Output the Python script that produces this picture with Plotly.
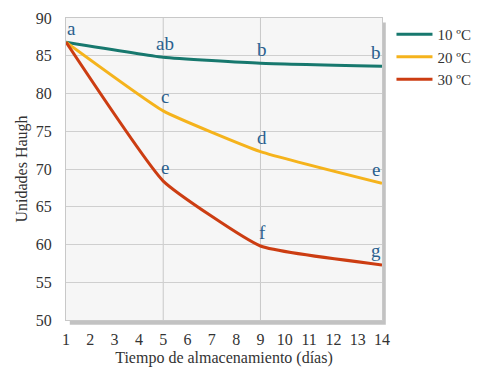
import plotly.graph_objects as go

days = [1, 5, 9, 14]
s10 = [86.8, 84.8, 84.0, 83.6]
s20 = [86.8, 77.7, 72.3, 68.1]
s30 = [86.8, 68.4, 59.8, 57.3]
names = ["10 ºC", "20 ºC", "30 ºC"]
colors = ["#17786e", "#f5b31c", "#cc3d12"]
lab10 = ["a", "ab", "b", "b"]
lab20 = ["", "c", "d", "e"]
lab30 = ["", "e", "f", "g"]
xticks = list(range(1, 15))
yticks = list(range(50, 91, 5))

serif = "Liberation Serif, Times New Roman, serif"
fig = go.Figure()
for name, vals, col in zip(names, [s10, s20, s30], colors):
    fig.add_trace(go.Scatter(x=days, y=vals, mode="lines", name=name,
                             line=dict(color=col, width=3, shape="spline", smoothing=0.4)))

for vals, labs in zip([s10, s20, s30], [lab10, lab20, lab30]):
    for xv, yv, t in zip(days, vals, labs):
        if not t:
            continue
        xs = 5 if xv == 1 else (-6 if xv == 14 else 2)
        fig.add_annotation(x=xv, y=yv, text=t, showarrow=False, xref="x", yref="y",
                           yshift=14, xshift=xs,
                           font=dict(family=serif, size=19, color="#2a5f8e"))

# drop shadow of plot area
fig.add_shape(type="rect", xref="paper", yref="paper", x0=0.012, y0=-0.016, x1=1.012, y1=0.985,
              fillcolor="#9a9a9a", line=dict(width=0), layer="below", opacity=0.6)
fig.add_shape(type="rect", xref="paper", yref="paper", x0=0, y0=0, x1=1, y1=1,
              fillcolor="#f6f6f6", line=dict(width=0), layer="below")

fig.update_layout(
    width=472, height=370,
    margin=dict(l=58, r=98, t=10, b=58, autoexpand=False),
    paper_bgcolor="white", plot_bgcolor="rgba(0,0,0,0)",
    font=dict(family=serif, size=14, color="#333333"),
    legend=dict(x=1.03, y=1.0, xanchor="left", yanchor="top",
                font=dict(family=serif, size=15, color="#333333"),
                itemwidth=36, tracegroupgap=0, bgcolor="rgba(0,0,0,0)"),
    showlegend=True,
)
fig.update_xaxes(range=[1, 14], tickvals=xticks, ticktext=[str(v) for v in xticks],
                 showgrid=False, zeroline=False, showline=True, mirror=True,
                 linecolor="#c8c8c8", linewidth=1, ticks="outside", ticklen=5,
                 tickcolor="rgba(0,0,0,0)", automargin=False,
                 title=dict(text="Tiempo de almacenamiento (días)", font=dict(size=16), standoff=4),
                 tickfont=dict(size=16))
fig.update_yaxes(range=[50, 90], tickvals=yticks, showgrid=True, gridcolor="#cfcfcf",
                 zeroline=False, showline=True, mirror=True, linecolor="#c8c8c8", linewidth=1,
                 ticks="outside", ticklen=10, tickcolor="rgba(0,0,0,0)", automargin=False,
                 title=dict(text="Unidades Haugh", font=dict(size=16), standoff=4),
                 tickfont=dict(size=16))
for xv in [5, 9]:
    fig.add_shape(type="line", xref="x", yref="paper", x0=xv, x1=xv, y0=0, y1=1,
                  line=dict(color="#c8c8c8", width=1), layer="below")

fig.write_html("out.html")
